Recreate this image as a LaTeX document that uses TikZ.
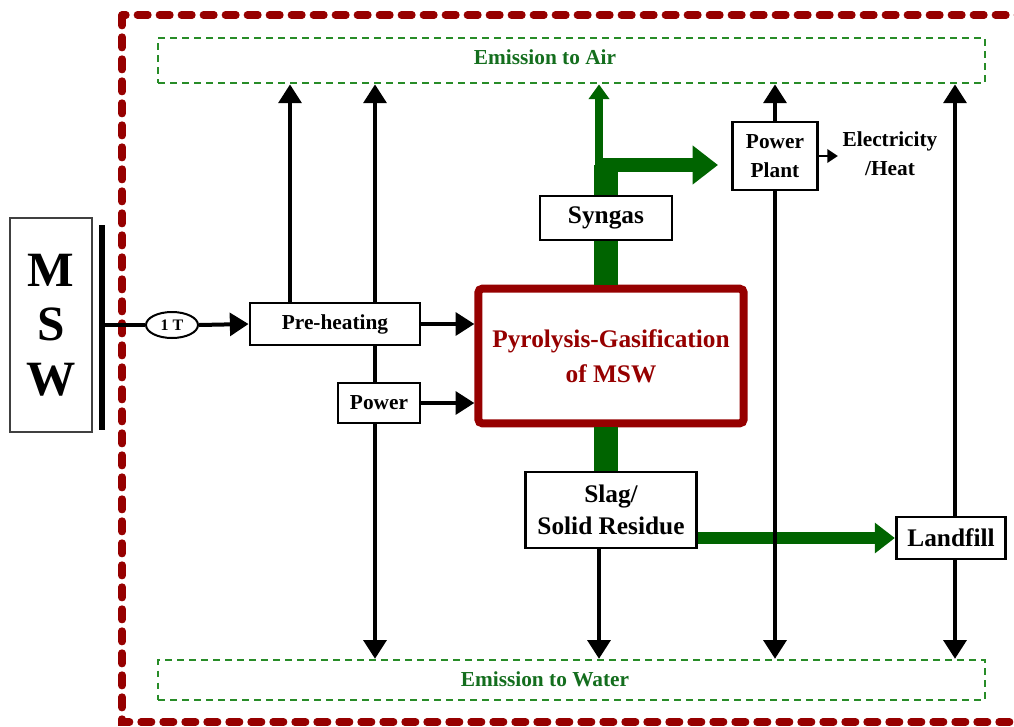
\documentclass[tikz,border=0pt]{standalone}
\usepackage{fontspec}
\setmainfont{Liberation Serif}
\usetikzlibrary{arrows.meta,calc,shapes.geometric}
\definecolor{darkred}{RGB}{150,0,0}
\definecolor{leafgreen}{RGB}{0,100,0}
\definecolor{dashgreen}{RGB}{40,140,40}
\definecolor{labelgreen}{RGB}{20,110,30}

\begin{document}
\begin{tikzpicture}[
        x=0.75pt, y=-0.75pt,
        every node/.style = {font=\bfseries},
        process/.style = {
            draw, line width=2.2pt, fill=white, inner sep=0pt,
            outer sep=auto, align=center
        },
        emission/.style = {
            draw=dashgreen, line width=1.8pt, dash pattern=on 5pt off 4pt,
            minimum width=620pt, inner sep=0pt, outer sep=auto
        },
        small text/.style = {font=\bfseries\fontsize{16}{22}\selectfont},
        large text/.style = {font=\bfseries\fontsize{19}{24}\selectfont},
        flow/.style = {line width=3pt, -{Triangle[length=14pt,width=17pt]}},
        thin flow/.style = {line width=2.2pt, -{Triangle[length=8pt,width=10pt]}},
        gbar/.style = {leafgreen, line width=18pt},
        gwide/.style = {leafgreen, line width=11pt, -{Triangle[length=19pt,width=28pt]}},
        gmid/.style = {leafgreen, line width=9pt, -{Triangle[length=15pt,width=22pt]}},
        gthin/.style = {leafgreen, line width=6pt, -{Triangle[length=11pt,width=15pt]}},
        ]
    \useasboundingbox (0,0) rectangle (1014,726);
    \draw[darkred, line width=5.5pt, line cap=round, dash pattern=on 8pt off 8.5pt]
        (122,15) rectangle (1045,722);

    \node[emission, minimum height=34pt] (air) at (571.5,60.5) {};
    \node[small text, text=labelgreen] (airtext) at (545,57) {Emission to Air};
    \node[emission, minimum height=30pt] (water) at (571.5,680) {};
    \node[small text, text=labelgreen] (watertext) at (545,679) {Emission to Water};

    \node[draw=black!75, line width=1.3pt, minimum width=61.5pt, minimum height=160.5pt,
        align=center, font=\bfseries\fontsize{37}{41}\selectfont] (msw) at (51,325) {M\\S\\W};
    \coordinate (bartop) at (102,225);
    \coordinate (barbot) at (102,430);
    \node[draw, ellipse, line width=1.5pt, minimum width=39pt, minimum height=19.5pt,
        inner sep=0pt, outer sep=auto, font=\bfseries\fontsize{12}{14}\selectfont] (tonne) at (172,325) {1 T};

    \node[process, small text, minimum width=127.5pt, minimum height=31.5pt] (preheat) at (335,324) {Pre-heating};
    \node[process, small text, minimum width=61.5pt, minimum height=30pt] (power) at (379,403) {Power};
    \node[process, draw=darkred, line width=6pt, rounded corners=3pt, text=darkred,
        font=\bfseries\fontsize{19}{26}\selectfont, minimum width=199pt, minimum height=101pt] (pyro) at (611,356)
        {Pyrolysis-Gasification\\of MSW};
    \node[process, large text, minimum width=99pt, minimum height=33pt] (syngas) at (606,218) {Syngas};
    \node[process, small text, minimum width=64pt, minimum height=51pt] (pplant) at (775,156) {Power\\Plant};
    \node[small text, align=center] (elec) at (890,154) {Electricity\\/Heat};
    \node[process, large text, minimum width=128pt, minimum height=57pt] (slag) at (611,510) {Slag/\\Solid Residue};
    \node[process, large text, minimum width=82pt, minimum height=31.5pt] (landfill) at (951,538) {Landfill};

    \coordinate (c1) at (290,0);
    \coordinate (c2) at (375,0);
    \coordinate (c5) at (955,0);
    \coordinate (fork) at (607,165);
    \coordinate (vent) at (599,165);
    \coordinate (ppin) at (718,165);

    \draw[gbar] (pyro.north -| syngas) -- (syngas.south);
    \draw[gbar] (syngas.north) -- (syngas.north |- fork);
    \draw[gwide] ($(fork)+(-12,0)$) -- (ppin);
    \draw[gthin] (vent) -- (air.south -| vent);
    \draw[gbar] (pyro.south -| syngas) -- (slag.north -| syngas);
    \draw[gmid] (slag.east |- landfill.west) -- (landfill.west);

    \draw[line width=5pt] (bartop) -- (barbot);
    \draw[line width=3pt] (bartop |- tonne) -- (tonne.west);
    \draw[flow] (tonne.east) -- (preheat.west);
    \draw[flow] (preheat.east) -- (preheat.east -| pyro.west);
    \draw[flow] (power.east) -- (power.east -| pyro.west);
    \draw[flow] (preheat.north -| c1) -- (air.south -| c1);
    \draw[flow] (preheat.north -| c2) -- (air.south -| c2);
    \draw[line width=3pt] (preheat.south -| c2) -- (power.north -| c2);
    \draw[flow] (power.south -| c2) -- (water.north -| c2);
    \draw[flow] (slag.south -| vent) -- (water.north -| vent);
    \draw[flow] (pplant.north) -- (air.south -| pplant);
    \draw[flow] (pplant.south) -- (water.north -| pplant);
    \draw[thin flow] (pplant.east) -- (pplant.east -| elec.west);
    \draw[flow] (landfill.north -| c5) -- (air.south -| c5);
    \draw[flow] (landfill.south -| c5) -- (water.north -| c5);
\end{tikzpicture}
\end{document}
